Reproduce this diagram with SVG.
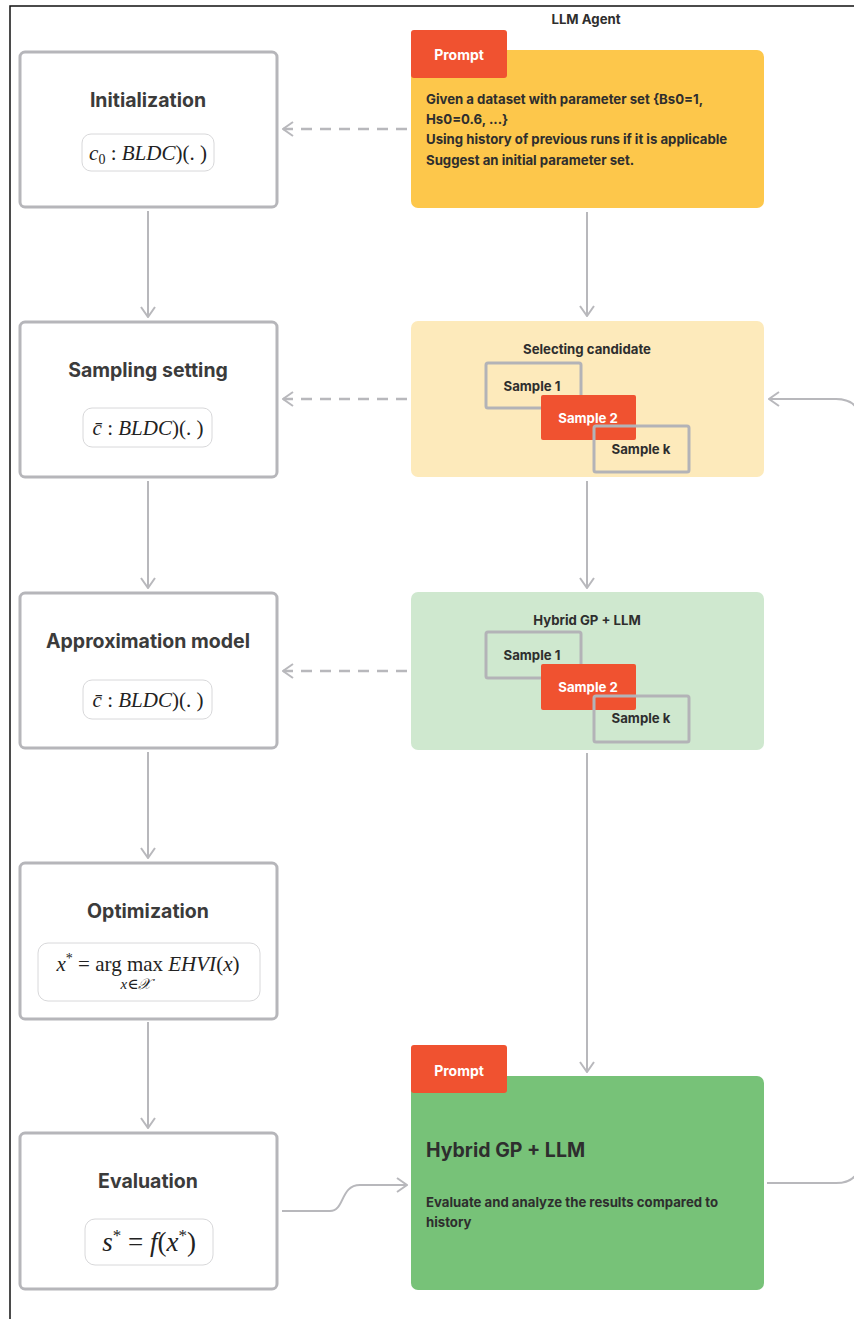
<svg xmlns="http://www.w3.org/2000/svg" width="854" height="1319" viewBox="0 0 854 1319">
<defs>
<style>
.box{fill:#fff;stroke:#b6b6ba;stroke-width:3}
.pill{fill:#fff;stroke:#d8d8da;stroke-width:1}
.title{font-family:Inter,"Liberation Sans",sans-serif;font-weight:700;font-size:19.5px;fill:#3b3b3b;text-anchor:middle}
.math{font-family:"Liberation Serif","DejaVu Serif",serif;font-size:21px;fill:#222;text-anchor:middle}
.body{font-family:Inter,"Liberation Sans",sans-serif;font-weight:700;font-size:13.2px;fill:#2e2e2e}
.sub{font-family:Inter,"Liberation Sans",sans-serif;font-weight:700;font-size:13.2px;fill:#2e2e2e;text-anchor:middle}
.tab{fill:#f05230}
.tabt{font-family:Inter,"Liberation Sans",sans-serif;font-weight:700;font-size:14px;fill:#fff;text-anchor:middle}
.samp{fill:none;stroke:#b3b3b7;stroke-width:3}
.conn{fill:none;stroke:#b8b8bc;stroke-width:2}
.dash{fill:none;stroke:#b8b8bc;stroke-width:2.5;stroke-dasharray:11 8}
</style>
<marker id="ah" viewBox="0 0 12 16" refX="11" refY="8" markerWidth="12" markerHeight="16" markerUnits="userSpaceOnUse" orient="auto">
<path d="M1,1 L11,8 L1,15" fill="none" stroke="#b8b8bc" stroke-width="2"/>
</marker>
</defs>
<rect width="854" height="1319" fill="#fff"/>
<path d="M10,1319 V6 H854" fill="none" stroke="#111" stroke-width="1.5"/>

<g id="connectors">
<line class="conn" x1="148" y1="211" x2="148" y2="317" marker-end="url(#ah)"/>
<line class="conn" x1="148" y1="481" x2="148" y2="588" marker-end="url(#ah)"/>
<line class="conn" x1="148" y1="752" x2="148" y2="858" marker-end="url(#ah)"/>
<line class="conn" x1="148" y1="1022" x2="148" y2="1128" marker-end="url(#ah)"/>
<line class="conn" x1="587" y1="212" x2="587" y2="316" marker-end="url(#ah)"/>
<line class="conn" x1="587" y1="481" x2="587" y2="588" marker-end="url(#ah)"/>
<line class="conn" x1="587" y1="753" x2="587" y2="1072" marker-end="url(#ah)"/>
<line class="dash" x1="407" y1="129" x2="283" y2="129" marker-end="url(#ah)"/>
<line class="dash" x1="407" y1="399" x2="283" y2="399" marker-end="url(#ah)"/>
<line class="dash" x1="407" y1="671" x2="283" y2="671" marker-end="url(#ah)"/>
<path class="conn" d="M282,1211 H330 C345,1211 340,1185 360,1185 H407" marker-end="url(#ah)"/>
<path class="conn" d="M767,1183 H836 Q860,1183 860,1159 V423 Q860,399 836,399 H769" marker-end="url(#ah)"/>
</g>

<g id="initialization">
<rect class="box" x="20" y="52" width="257" height="155" rx="5"/>
<text class="title" x="148" y="107">Initialization</text>
<rect class="pill" x="82" y="134" width="132" height="37" rx="9"/>
<text class="math" x="148" y="160"><tspan font-style="italic">c</tspan><tspan font-size="14" dy="4">0</tspan><tspan dy="-4"> : </tspan><tspan font-style="italic">BLDC</tspan>)(. )</text>
</g>

<g id="sampling-setting">
<rect class="box" x="20" y="322" width="257" height="155" rx="5"/>
<text class="title" x="148" y="377">Sampling setting</text>
<rect class="pill" x="83" y="408" width="129" height="39" rx="9"/>
<text class="math" x="148" y="435"><tspan font-style="italic">c̄</tspan> : <tspan font-style="italic">BLDC</tspan>)(. )</text>
</g>

<g id="approximation-model">
<rect class="box" x="20" y="593" width="257" height="155" rx="5"/>
<text class="title" x="148" y="648">Approximation model</text>
<rect class="pill" x="83" y="680" width="129" height="39" rx="9"/>
<text class="math" x="148" y="707"><tspan font-style="italic">c̄</tspan> : <tspan font-style="italic">BLDC</tspan>)(. )</text>
</g>

<g id="optimization">
<rect class="box" x="20" y="863" width="257" height="156" rx="5"/>
<text class="title" x="148" y="918">Optimization</text>
<rect class="pill" x="38" y="943" width="222" height="58" rx="10"/>
<text class="math" x="148" y="971"><tspan font-style="italic">x</tspan><tspan font-size="14" dy="-8">*</tspan><tspan dy="8"> = arg max </tspan><tspan font-style="italic">EHVI</tspan>(<tspan font-style="italic">x</tspan>)</text>
<text class="math" x="136" y="989" style="font-size:15px;font-style:italic">x∈𝒳</text>
</g>

<g id="evaluation">
<rect class="box" x="20" y="1133" width="257" height="156" rx="5"/>
<text class="title" x="148" y="1188">Evaluation</text>
<rect class="pill" x="85" y="1219" width="128" height="46" rx="10"/>
<text class="math" x="149" y="1251" style="font-size:27px"><tspan font-style="italic">s</tspan><tspan font-size="17" dy="-10">*</tspan><tspan dy="10"> = </tspan><tspan font-style="italic">f</tspan>(<tspan font-style="italic">x</tspan><tspan font-size="17" dy="-10">*</tspan><tspan dy="10">)</tspan></text>
</g>

<g id="llm-agent-label">
<text class="sub" x="586" y="24">LLM Agent</text>
</g>

<g id="prompt-initial">
<rect x="411" y="50" width="353" height="158" rx="7" fill="#fdc74b"/>
<rect class="tab" x="411" y="30" width="96" height="48" rx="3"/>
<text class="tabt" x="459" y="60">Prompt</text>
<text class="body" x="426" y="104">Given a dataset with parameter set {Bs0=1,</text>
<text class="body" x="426" y="124">Hs0=0.6, ...}</text>
<text class="body" x="426" y="144">Using history of previous runs if it is applicable</text>
<text class="body" x="426" y="165">Suggest an initial parameter set.</text>
</g>

<g id="selecting-candidate">
<rect x="411" y="321" width="353" height="156" rx="7" fill="#fdeabb"/>
<text class="sub" x="587" y="354">Selecting candidate</text>
<rect class="samp" x="486" y="363" width="95" height="45" rx="2"/>
<text class="sub" x="532" y="391">Sample 1</text>
<rect class="tab" x="541" y="395" width="95" height="45" rx="2"/>
<text class="sub" x="588" y="423" style="fill:#fff">Sample 2</text>
<rect class="samp" x="594" y="426" width="95" height="46" rx="2"/>
<text class="sub" x="641" y="454">Sample k</text>
</g>

<g id="hybrid-gp-llm-samples">
<rect x="411" y="592" width="353" height="158" rx="7" fill="#cfe8cf"/>
<text class="sub" x="587" y="625">Hybrid GP + LLM</text>
<rect class="samp" x="486" y="632" width="95" height="46" rx="2"/>
<text class="sub" x="532" y="660">Sample 1</text>
<rect class="tab" x="541" y="664" width="95" height="46" rx="2"/>
<text class="sub" x="588" y="692" style="fill:#fff">Sample 2</text>
<rect class="samp" x="594" y="696" width="95" height="46" rx="2"/>
<text class="sub" x="641" y="723">Sample k</text>
</g>

<g id="prompt-evaluate">
<rect x="411" y="1076" width="353" height="214" rx="7" fill="#77c278"/>
<rect class="tab" x="411" y="1045" width="96" height="48" rx="3"/>
<text class="tabt" x="459" y="1076">Prompt</text>
<text class="body" x="426" y="1157" style="font-size:19.5px">Hybrid GP + LLM</text>
<text class="body" x="426" y="1207">Evaluate and analyze the results compared to</text>
<text class="body" x="426" y="1227">history</text>
</g>
</svg>
